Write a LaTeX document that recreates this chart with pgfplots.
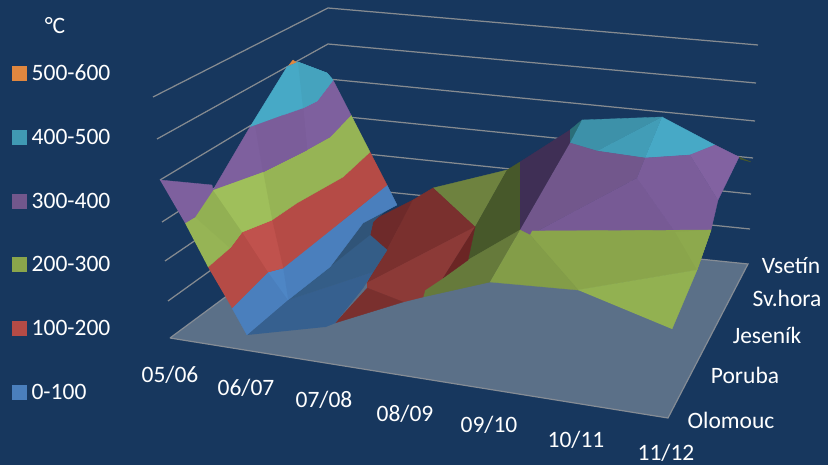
\documentclass[border=0pt]{standalone}
\usepackage{pgfplots}
\pgfplotsset{compat=1.18}
\usepackage{fontspec}
\setmainfont{Carlito}
% colour of each temperature band and its shaded facets
\definecolor{bg}{HTML}{17375E}
\definecolor{floorc}{HTML}{5B7088}
\definecolor{gridc}{HTML}{858A90}
\definecolor{edgec}{HTML}{858C95}
\definecolor{orangeb}{HTML}{E0873F}
\definecolor{tealL}{HTML}{47A9C6}
\definecolor{tealK}{HTML}{45A3BE}
\definecolor{tealM}{HTML}{429DB7}
\definecolor{tealD}{HTML}{3D91A9}
\definecolor{tealX}{HTML}{2A6E78}
\definecolor{legteal}{HTML}{4099B3}
\definecolor{purM}{HTML}{7E609E}
\definecolor{purN}{HTML}{7B5D9A}
\definecolor{purL}{HTML}{8262A1}
\definecolor{purA}{HTML}{72578C}
\definecolor{purB}{HTML}{775A95}
\definecolor{purD}{HTML}{3F2F55}
\definecolor{greL}{HTML}{9FBF5B}
\definecolor{greM}{HTML}{96B455}
\definecolor{greN}{HTML}{92B053}
\definecolor{greA}{HTML}{8AA54B}
\definecolor{greP}{HTML}{8DA94D}
\definecolor{greB}{HTML}{839D48}
\definecolor{greS}{HTML}{92B151}
\definecolor{oliA}{HTML}{6E823F}
\definecolor{oliB}{HTML}{47582A}
\definecolor{oliC}{HTML}{667A3B}
\definecolor{redL}{HTML}{C0524D}
\definecolor{redM}{HTML}{B54B46}
\definecolor{redA}{HTML}{7A302E}
\definecolor{redB}{HTML}{8C3A37}
\definecolor{redC}{HTML}{6B2524}
\definecolor{redE}{HTML}{6E2A2A}
\definecolor{bluL}{HTML}{4E86C5}
\definecolor{bluM}{HTML}{4A7FBD}
\definecolor{bluA}{HTML}{305478}
\definecolor{bluB}{HTML}{345D87}
\definecolor{bluC}{HTML}{36608F}
\newcommand{\facet}[2]{\addplot[fill=#1,draw=#1,line width=0.35pt] coordinates {#2};}
\newcommand{\wall}[1]{\addplot[draw=gridc,line width=1.25pt] coordinates {#1};}
\newcommand{\lab}[3]{\node[text=white,font=\fontsize{23.5}{24}\selectfont,anchor=center] at (axis cs:#1,#2) {#3};}
\begin{document}
\begin{tikzpicture}
\begin{axis}[
  width=828pt,height=465pt,scale only axis,
  xmin=0,xmax=828,ymin=0,ymax=465,y dir=reverse,
  hide axis,clip=true]
% background
\facet{bg}{(0,0)(828,0)(828,465)(0,465)}
% floor
\addplot[fill=floorc,draw=edgec,line width=1.2pt] coordinates {(170,338)(668,418)(748,264)(328,221)(170,338)};
% wall lines at every 100 degrees
\wall{(153,97)(328,8)(758,45)}
\wall{(157,139)(328,44)(756,83)}
\wall{(160,180)(328,79)(755,121)}
\wall{(162,222)(328,115)(753,158)}
\wall{(165,261)(328,150)(751,194)}
\wall{(168,301)(328,186)(750,229)}
% 200-300, far side
\facet{oliA}{(433,188)(507,170)(475,227)}
\facet{oliB}{(507,170)(520,162)(520,230)(468,260)(475,227)}
\facet{oliC}{(468,260)(520,230)(490,282)(423,297)(425,290)(443,278)}
% 300-400 and 400-500, far side
\facet{purD}{(520,162)(570,130)(570,143)(520,230)}
\facet{tealX}{(570,130)(582,120)(570,143)}
\facet{tealD}{(582,120)(662,117)(597,151)(570,143)}
\facet{tealM}{(662,117)(645,158)(597,151)}
\facet{tealL}{(662,117)(715,145)(690,155)(645,158)}
\facet{purA}{(570,143)(597,151)(645,158)(637,178)(530,235)(520,230)}
\facet{purB}{(637,178)(675,232)(532,231)(530,235)}
\facet{purN}{(645,158)(690,155)(718,200)(711,230)(675,232)(637,178)}
\facet{purL}{(690,155)(715,145)(739,157)(718,200)}
\facet{oliB}{(739,157)(751,162)(740,159)}
% 200-300, near side
\facet{greA}{(532,231)(711,230)(697,270)(578,290)(530,235)}
\facet{greP}{(675,232)(711,230)(697,270)}
\facet{greB}{(520,230)(530,235)(578,290)(490,282)}
\facet{greS}{(578,290)(697,270)(672,329)}
% 100-200, far side
\facet{redE}{(370,236)(373,222)(377,218)(413,200)(387,250)}
\facet{redA}{(387,250)(413,200)(433,188)(475,227)(367,283)(373,272)}
\facet{redB}{(367,283)(475,227)(443,278)(425,290)(423,297)(403,302)(367,288)}
\facet{redC}{(475,227)(468,260)(443,278)}
\facet{redA}{(367,288)(403,302)(335,323)}
% 0-100, far side
\facet{bluC}{(247,335)(288,300)(373,272)(363,288)(335,323)(325,327)}
\facet{bluB}{(288,300)(370,235)(387,250)(373,272)}
\facet{bluA}{(288,300)(330,267)(363,223)(393,205)(377,218)(373,222)(370,235)}
% 0-100, near side
\facet{bluM}{(247,335)(232,308)(268,272)(283,268)(387,185)(397,205)(363,223)(330,267)(288,300)}
\facet{bluL}{(268,272)(283,268)(288,300)}
% 100-200
\facet{redM}{(208,267)(230,248)(242,232)(272,220)(297,203)(343,177)(370,152)(387,185)(283,268)(268,272)(232,308)}
\facet{redL}{(242,232)(272,220)(283,268)(268,272)}
% 200-300
\facet{greM}{(185,223)(195,217)(213,190)(263,172)(303,152)(330,137)(351,115)(370,152)(343,177)(297,203)(272,220)(242,232)(230,248)(208,267)}
\facet{greN}{(195,217)(213,190)(242,232)(230,248)}
\facet{greL}{(213,190)(263,172)(272,220)(242,232)}
% 300-400
\facet{purM}{(160,180)(212,185)(213,190)(195,217)(185,223)}
\facet{purM}{(213,190)(250,127)(283,115)(303,108)(317,101)(333,80)(351,115)(330,137)(303,152)(263,172)}
\facet{purN}{(255,125)(283,115)(303,108)(307,150)(263,172)}
% 400-500 and 500-600 at the peak
\facet{orangeb}{(289,65)(293,60)(297,63)}
\facet{tealL}{(250,127)(287,67)(298,62)(327,73)(333,80)(317,101)(303,108)(283,115)}
\facet{tealK}{(298,62)(327,73)(333,80)(317,101)(303,108)}
% legend keys
\facet{orangeb}{(12,66)(26,66)(26,80)(12,80)}
\facet{legteal}{(12,130)(26,130)(26,144)(12,144)}
\facet{purA}{(12,194)(26,194)(26,208)(12,208)}
\facet{greA}{(12,257)(26,257)(26,271)(12,271)}
\facet{redM}{(12,321)(26,321)(26,335)(12,335)}
\facet{bluM}{(12,385)(26,385)(26,399)(12,399)}
% legend text
\lab{55}{26}{°C}
\lab{71}{73}{500-600}
\lab{71}{137}{400-500}
\lab{71}{201}{300-400}
\lab{71}{264}{200-300}
\lab{71}{328}{100-200}
\lab{59}{392}{0-100}
% category labels
\lab{170}{375}{05/06}
\lab{246}{388}{06/07}
\lab{324}{400}{07/08}
\lab{405}{414}{08/09}
\lab{489}{425}{09/10}
\lab{576}{440}{10/11}
\lab{666}{453}{11/12}
% station labels
\lab{791}{266}{Vsetín}
\lab{787}{298}{Sv.hora}
\lab{767}{335}{Jeseník}
\lab{745}{375}{Poruba}
\lab{731}{420}{Olomouc}
\end{axis}
\end{tikzpicture}
\end{document}
